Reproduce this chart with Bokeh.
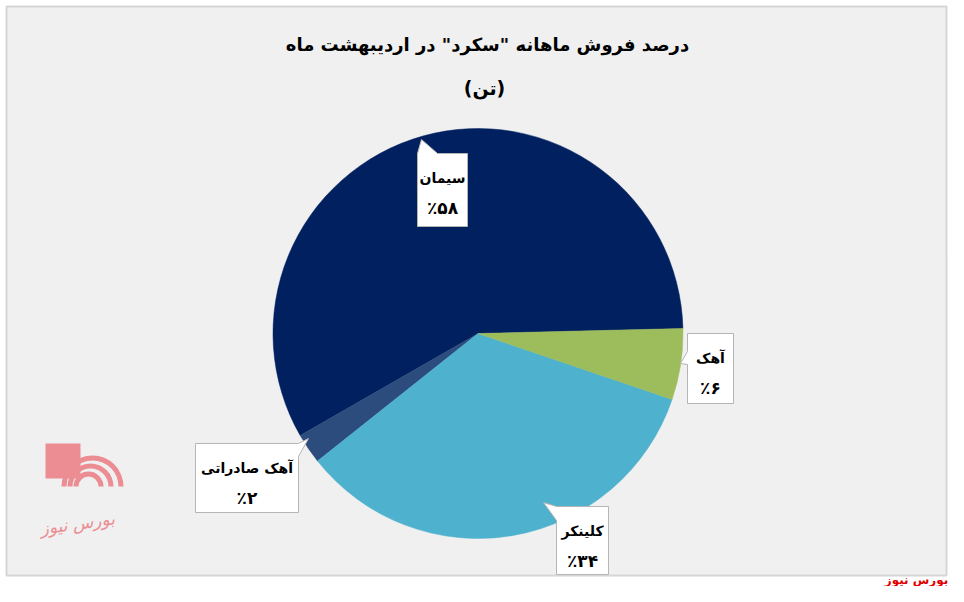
import math
import numpy as np
from bokeh.plotting import figure
from bokeh.models import Range1d, ColumnDataSource
from bokeh.core.properties import value
from bokeh.embed import file_html
from bokeh.resources import INLINE

# ---- data (counter-clockwise order starting just above 3 o'clock) ----
categories = ["سیمان", "آهک صادراتی", "کلینکر", "آهک"]
shares = [57.9, 2.4, 34.1, 5.6]
share_labels = ["٪۵۸", "٪۲", "٪۳۴", "٪۶"]
colors = ["#012060", "#2c4c7d", "#4eb1cd", "#9dbd5c"]
title_line1 = 'درصد فروش ماهانه "سکرد" در اردیبهشت ماه'
title_line2 = "(تن)"
source_text = "بورس نیوز"

# ---- layout helpers (figure pixel -> data) ----
W, H = 948, 586
CX, CY = 477.5, 333.0     # pie centre, px
R = 205.0                 # pie radius, px
BOX_L, BOX_R, BOX_T, BOX_B = 6, 946, 6, 575   # grey chart area

def dx(px):
    return px - CX

def dy(py):
    return CY - py

p = figure(width=W, height=H, output_backend="svg", toolbar_location=None,
           x_range=Range1d(dx(0), dx(W)), y_range=Range1d(dy(H), dy(0)),
           min_border=0)
p.axis.visible = False
p.grid.visible = False
p.background_fill_color = "white"
p.border_fill_color = "white"
p.outline_line_color = None

# grey chart area with border
p.quad(left=dx(BOX_L), right=dx(BOX_R), top=dy(BOX_T), bottom=dy(BOX_B),
       fill_color="#f0f0f0", line_color="#d6d6d6", line_width=2)

# ---- pie ----
start0 = math.radians(1.4)
fr = np.array(shares) / sum(shares)
ends = start0 + np.cumsum(fr) * 2 * math.pi
starts = np.concatenate([[start0], ends[:-1]])
src = ColumnDataSource(dict(start=starts, end=ends, color=colors, cat=categories))
p.wedge(x=0, y=0, radius=R, start_angle="start", end_angle="end",
        fill_color="color", line_color="color", line_width=0.5, source=src)

# ---- callouts (box l,t,r,b in px; polygon includes pointer) ----
callouts = [
    dict(box=(417, 153, 467, 226),
         poly=[(417, 153), (421, 139), (437, 153), (467, 153), (467, 226), (417, 226)]),
    dict(box=(195, 443, 298, 512),
         poly=[(195, 443), (298, 443), (308, 438), (298, 456), (298, 512), (195, 512)]),
    dict(box=(556, 506, 608, 574),
         poly=[(556, 506), (608, 506), (608, 574), (556, 574), (556, 520), (543, 502)]),
    dict(box=(687, 333, 733, 403),
         poly=[(687, 333), (733, 333), (733, 403), (687, 403), (687, 364), (680, 363), (687, 351)]),
]
xs = [[dx(a) for a, b in c["poly"]] for c in callouts]
ys = [[dy(b) for a, b in c["poly"]] for c in callouts]
p.patches(xs=xs, ys=ys, fill_color="white", line_color="#b5b5b5", line_width=1)

tx = [dx((c["box"][0] + c["box"][2]) / 2) for c in callouts]
ty1 = [dy(c["box"][1] + 24) for c in callouts]
ty2 = [dy(c["box"][1] + 54) for c in callouts]
p.text(x=tx, y=ty1, text=categories, text_align="center", text_baseline="middle",
       text_font=value("DejaVu Sans"), text_font_style="bold", text_font_size="14px",
       text_color="black")
p.text(x=tx, y=ty2, text=share_labels, text_align="center", text_baseline="middle",
       text_font=value("DejaVu Sans"), text_font_style="bold", text_font_size="17px",
       text_color="black")

# ---- title ----
p.text(x=[dx(487)], y=[dy(44)], text=[title_line1], text_align="center", text_baseline="middle",
       text_font=value("DejaVu Sans"), text_font_style="bold", text_font_size="18px",
       text_color="black")
p.text(x=[dx(484)], y=[dy(87)], text=[title_line2], text_align="center", text_baseline="middle",
       text_font=value("DejaVu Sans"), text_font_style="bold", text_font_size="19px",
       text_color="black")

# ---- watermark logo ----
pink = "#eb8d92"
p.quad(left=dx(45), right=dx(80), top=dy(443), bottom=dy(478), fill_color=pink, line_color=None)
for i, rr in enumerate([30, 22, 14]):
    p.annular_wedge(x=dx(92 - i * 2), y=dy(486), inner_radius=rr - 4, outer_radius=rr + 1,
                    start_angle=math.radians(0), end_angle=math.radians(180),
                    fill_color=pink, line_color=None)
p.text(x=[dx(77)], y=[dy(523)], text=[source_text], text_align="center", text_baseline="middle",
       text_font=value("DejaVu Sans"), text_font_style="italic", text_font_size="17px",
       text_color=pink, angle=math.radians(8))

# ---- source credit (below grey area) ----
p.text(x=[dx(916)], y=[dy(586)], text=[source_text], text_align="center", text_baseline="bottom",
       text_font=value("DejaVu Sans"), text_font_style="bold", text_font_size="12px",
       text_color="#e00000")

open("out.html", "w").write(file_html(p, INLINE))
